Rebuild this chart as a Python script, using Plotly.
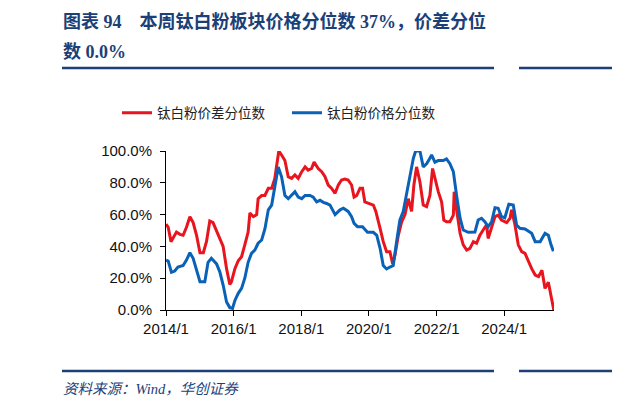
import plotly.graph_objects as go

# 钛白粉价差分位数 (red), values in %
spread_dates = [
    "2014-01-01", "2014-01-25", "2014-02-24", "2014-03-18", "2014-04-24", "2014-06-01",
    "2014-07-05", "2014-08-10", "2014-09-16", "2014-10-21", "2014-11-27", "2015-01-03",
    "2015-02-08", "2015-03-14", "2015-04-19", "2015-05-24", "2015-07-01", "2015-08-05",
    "2015-09-10", "2015-10-17", "2015-11-11", "2015-11-21", "2015-12-09", "2016-01-15",
    "2016-02-20", "2016-03-27", "2016-05-01", "2016-06-06", "2016-06-25", "2016-08-01",
    "2016-09-06", "2016-09-22", "2016-10-30", "2016-12-04", "2017-01-10", "2017-02-15",
    "2017-03-21", "2017-05-03", "2017-06-02", "2017-07-08", "2017-08-13", "2017-09-19",
    "2017-10-24", "2017-11-29", "2018-01-06", "2018-02-11", "2018-03-16", "2018-04-22",
    "2018-05-19", "2018-07-03", "2018-08-09", "2018-09-13", "2018-10-19", "2018-11-25",
    "2019-01-01", "2019-02-05", "2019-03-12", "2019-04-16", "2019-05-22", "2019-06-28",
    "2019-07-25", "2019-08-22", "2019-09-27", "2019-10-25", "2019-11-18", "2020-01-12",
    "2020-02-18", "2020-03-16", "2020-04-12", "2020-05-01", "2020-06-04", "2020-07-10",
    "2020-08-15", "2020-09-14", "2020-10-09", "2020-11-14", "2020-12-20", "2021-01-25",
    "2021-03-01", "2021-04-06", "2021-05-01", "2021-05-30", "2021-07-05", "2021-08-10",
    "2021-09-15", "2021-10-21", "2021-11-19", "2021-12-14", "2022-01-19", "2022-02-24",
    "2022-03-20", "2022-04-18", "2022-05-25", "2022-07-01", "2022-07-10", "2022-08-05",
    "2022-09-12", "2022-10-16", "2022-11-22", "2022-12-27", "2023-02-02", "2023-03-09",
    "2023-04-14", "2023-05-19", "2023-06-25", "2023-07-12", "2023-08-18", "2023-09-24",
    "2023-10-28", "2023-12-03", "2024-01-28", "2024-03-04", "2024-03-21", "2024-04-27",
    "2024-06-01", "2024-07-08", "2024-08-13", "2024-09-18", "2024-10-24", "2024-12-01",
    "2025-01-06", "2025-02-12", "2025-03-17", "2025-04-22", "2025-05-21", "2025-06-20",
]
spread_vals = [
    54, 52, 43, 45, 49, 47.6,
    47, 52, 58.7, 55, 47, 36,
    36, 43, 56, 55, 50, 45,
    40, 26, 17.4, 16, 17.8, 26,
    31, 33.5, 41, 49, 61, 58.7,
    60, 70, 72, 72, 76.5, 76.5,
    82.8, 100, 97.5, 94, 83.8, 82.8,
    85, 82.8, 87, 90, 88, 89,
    93, 89, 87, 84, 78.6, 76.5,
    73.4, 78.6, 81.8, 82.4, 81.8, 78.6,
    71, 72, 76.5, 76.5, 68, 67,
    66, 62, 54.5, 51.4, 43, 36.7,
    36.7, 29, 34.6, 47, 55.5, 60,
    70, 62, 78.6, 90, 80.7, 66,
    65, 72, 89, 82.8, 74.4, 68,
    56.6, 55.5, 55.5, 59.7, 74.4, 63,
    48.2, 41, 37.7, 38.8, 43, 42,
    47, 50.3, 53.5, 45, 52.4, 58.7,
    59.7, 56.6, 55, 57.7, 63, 53.5,
    41, 36.7, 35.6, 30.4, 26, 22,
    21, 25, 13.6, 17.4, 8.4, 0,
]

# 钛白粉价格分位数 (blue), values in %
price_dates = [
    "2014-01-01", "2014-01-25", "2014-03-01", "2014-04-05", "2014-05-10", "2014-07-05",
    "2014-08-10", "2014-09-16", "2014-10-21", "2014-11-27", "2015-01-03", "2015-02-24",
    "2015-03-31", "2015-05-06", "2015-07-01", "2015-08-05", "2015-09-10", "2015-10-17",
    "2015-11-21", "2015-12-20", "2016-01-15", "2016-02-20", "2016-03-27", "2016-05-01",
    "2016-06-06", "2016-07-12", "2016-08-17", "2016-09-22", "2016-10-30", "2016-12-04",
    "2017-01-10", "2017-02-15", "2017-03-21", "2017-04-27", "2017-06-02", "2017-07-08",
    "2017-08-13", "2017-09-19", "2017-10-24", "2017-11-29", "2018-01-06", "2018-02-11",
    "2018-04-05", "2018-05-10", "2018-06-16", "2018-07-22", "2018-08-27", "2018-10-02",
    "2018-11-07", "2019-01-01", "2019-02-24", "2019-04-01", "2019-05-22", "2019-06-28",
    "2019-07-25", "2019-08-31", "2019-10-24", "2019-12-17", "2020-02-18", "2020-03-26",
    "2020-05-01", "2020-06-04", "2020-07-10", "2020-08-15", "2020-09-20", "2020-10-26",
    "2020-12-01", "2021-01-06", "2021-02-12", "2021-03-20", "2021-04-25", "2021-05-20",
    "2021-07-05", "2021-08-10", "2021-09-15", "2021-10-21", "2021-11-08", "2021-12-14",
    "2022-01-19", "2022-03-14", "2022-04-18", "2022-05-25", "2022-07-01", "2022-08-05",
    "2022-09-12", "2022-10-16", "2022-12-09", "2023-02-19", "2023-03-26", "2023-05-01",
    "2023-06-06", "2023-07-12", "2023-08-18", "2023-09-24", "2023-10-28", "2023-12-03",
    "2024-01-08", "2024-02-20", "2024-04-08", "2024-05-14", "2024-06-19", "2024-08-13",
    "2024-10-24", "2024-12-01", "2025-01-24", "2025-03-17", "2025-04-22", "2025-05-21",
    "2025-06-15",
]
price_vals = [
    31.4, 30.8, 23.7, 24.5, 27, 28,
    31.4, 36, 32.5, 25, 17.8, 17.8,
    30, 32.5, 29, 24, 15.7, 5,
    1.5, 1, 6, 10.5, 13.6, 20,
    30, 35.6, 37.7, 42, 44, 51,
    63, 66, 78.6, 90, 83.8, 72,
    70, 72, 74.4, 71, 70, 72,
    72, 71, 68, 69, 67.7, 67,
    66, 60, 63, 64, 62, 58.7,
    54.5, 52.4, 52.4, 48.9, 48.9, 47,
    38.8, 28, 25.8, 27, 28, 43,
    56.6, 62, 73.4, 83.8, 95.4, 100,
    100, 90, 92, 95.4, 97.5, 93,
    94, 94, 95, 92, 87, 72,
    57.7, 50.3, 48.9, 49, 56.6, 57.7,
    55.5, 52.4, 55.5, 64.3, 64, 58.7,
    58, 66.5, 66, 53.5, 51.4, 51,
    48.2, 43, 43, 48.2, 47, 41,
    37,
]

x_tick_dates = ["2014-01-01", "2016-01-01", "2018-01-01", "2020-01-01", "2022-01-01", "2024-01-01"]
x_tick_labels = ["2014/1", "2016/1", "2018/1", "2020/1", "2022/1", "2024/1"]
y_tick_vals = [0, 20, 40, 60, 80, 100]
y_tick_labels = ["0.0%", "20.0%", "40.0%", "60.0%", "80.0%", "100.0%"]

RED = "#E8141E"
BLUE = "#0A62B8"
NAVY = "#1C3F78"

# the page puts the figure 8px in from the top-left corner
OFF = 8
# plot area in screen pixels: x 166..554, y 151..310
L, R, T, B = 166, 554, 151, 310


def px(x):
    return (x - L) / (R - L)


def py(y):
    return (B - y) / (B - T)


fig = go.Figure()
fig.add_trace(go.Scatter(x=spread_dates, y=spread_vals, name="钛白粉价差分位数",
                         mode="lines", line=dict(color=RED, width=3)))
fig.add_trace(go.Scatter(x=price_dates, y=price_vals, name="钛白粉价格分位数",
                         mode="lines", line=dict(color=BLUE, width=3)))

tick_font = dict(family="Liberation Sans, Arial", size=15, color="#111111")

fig.update_layout(
    width=620, height=411,
    margin=dict(l=L - OFF, r=620 - R + OFF, t=T - OFF, b=411 - B + OFF, autoexpand=False),
    paper_bgcolor="white", plot_bgcolor="white",
    showlegend=True,
    legend=dict(orientation="h", x=px(117), y=py(113), xanchor="left", yanchor="middle",
                font=dict(family="Noto Sans CJK SC", size=13.5, color="#222222"),
                bgcolor="rgba(0,0,0,0)", itemwidth=30, entrywidth=125),
    xaxis=dict(type="date", range=["2014-01-01", "2025-06-22"],
               tickvals=x_tick_dates, ticktext=x_tick_labels,
               showline=True, linecolor="black", linewidth=1,
               ticks="outside", ticklen=5, tickcolor="black",
               showgrid=False, zeroline=False, tickfont=tick_font),
    yaxis=dict(range=[0, 100], tickvals=y_tick_vals, ticktext=y_tick_labels,
               showline=True, linecolor="black", linewidth=1,
               ticks="outside", ticklen=5, tickcolor="black", ticklabelstandoff=5,
               showgrid=False, zeroline=False, tickfont=tick_font),
)

title_font = dict(family="Liberation Serif, Noto Sans CJK SC", size=18, color=NAVY, weight="bold")
fig.add_annotation(text="图表 94\u00a0\u00a0\u00a0\u00a0本周钛白粉板块价格分位数 37%，价差分位",
                   xref="paper", yref="paper", x=px(61), y=py(21),
                   xanchor="left", yanchor="middle", showarrow=False, font=title_font)
fig.add_annotation(text="数 0.0%", xref="paper", yref="paper", x=px(61), y=py(52),
                   xanchor="left", yanchor="middle", showarrow=False, font=title_font)
fig.add_annotation(text="资料来源：Wind，华创证券", xref="paper", yref="paper",
                   x=px(61), y=py(389), xanchor="left", yanchor="middle", showarrow=False,
                   font=dict(family="Liberation Serif, Noto Sans CJK SC", size=14.5,
                             color=NAVY, style="italic"))

for y in (68, 371):
    fig.add_shape(type="line", xref="paper", yref="paper",
                  x0=px(62), x1=px(494), y0=py(y), y1=py(y),
                  line=dict(color=NAVY, width=2.5))
    fig.add_shape(type="line", xref="paper", yref="paper",
                  x0=px(519), x1=px(630), y0=py(y), y1=py(y),
                  line=dict(color=NAVY, width=2.5))

fig.write_html("out.html")
